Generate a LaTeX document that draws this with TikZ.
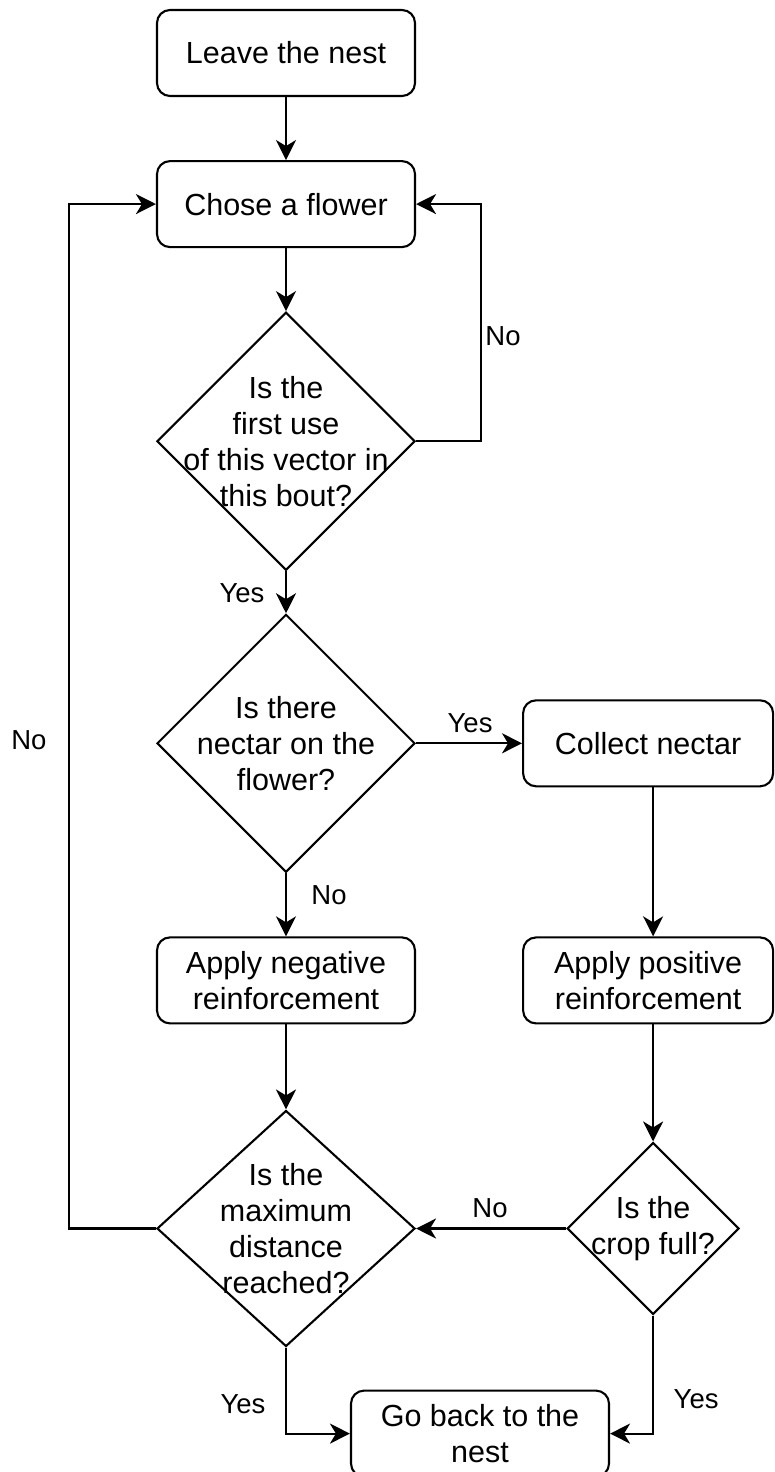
\documentclass[tikz,border=0pt]{standalone}
\usepackage{fontspec}
\setmainfont{Liberation Sans}
\usetikzlibrary{positioning,arrows.meta,calc,shapes.geometric}

\begin{document}
\begin{tikzpicture}[
  x=1pt, y=1pt,
  font=\fontsize{30.5}{36}\selectfont,
  >={Stealth[length=20pt,width=20pt,inset=6pt]},
  %% Node styles
  action/.style={
    rectangle, rounded corners=13pt, draw=black, fill=white,
    line width=2.1pt, minimum width=258pt, minimum height=86pt,
    inner sep=0pt, align=center
  },
  decision/.style={
    diamond, draw=black, fill=white,
    line width=2.1pt, inner sep=0pt,
    minimum width=258pt, minimum height=258pt
  },
  qtext/.style={align=center, inner sep=0pt},
  answer/.style={font=\fontsize{27.5}{33}\selectfont, inner sep=0pt},
  %% Arrow styles
  flow/.style={->, line width=2.1pt},
]

\useasboundingbox (-286,53) rectangle (488,-1419);

%% ── Left column ────────────────────────────────────────────────────────────
\node[action] (leave) at (0,0) {Leave the nest};
\node[action, below=63pt of leave] (flower) {Chose a flower};
\node[decision, below=63pt of flower,
      label={[qtext]center:Is the\\first use\\of this vector in\\this bout?}] (d1) {};
\node[decision, below=42pt of d1,
      label={[qtext]center:Is there\\nectar on the\\flower?}] (d2) {};
\node[action, below=63pt of d2] (neg) {Apply negative\\reinforcement};
\node[decision, below=85pt of neg, minimum height=236pt,
      label={[qtext]center:Is the\\maximum\\distance\\reached?}] (d3) {};

%% ── Right column ───────────────────────────────────────────────────────────
\node[action, right=106pt of d2, minimum width=250pt] (collect) {Collect nectar};
\node[action, right=106pt of neg, minimum width=250pt] (pos) {Apply positive\\reinforcement};
\node[decision, right=150pt of d3, minimum width=172pt, minimum height=172pt,
      label={[qtext]center:Is the\\crop full?}] (crop) {};

%% ── End ────────────────────────────────────────────────────────────────────
\node[action, below=42pt of d3, xshift=194pt] (home) {Go back to the\\nest};

%% ── Arrows ─────────────────────────────────────────────────────────────────
\draw[flow] (leave) -- (flower);
\draw[flow] (flower) -- (d1);
\draw[flow] (d1) -- (d2);
\draw[flow] (d1.east) -- ++(65,0) |- (flower.east);
\draw[flow] (d2) -- (collect);
\draw[flow] (d2) -- (neg);
\draw[flow] (neg) -- (d3);
\draw[flow] (collect.south -| crop) -- (pos.north -| crop);
\draw[flow] (pos.south -| crop) -- (crop.north);
\draw[flow] (crop) -- (d3);
\draw[flow] (d3.west) -- ++(-87,0) |- (flower.west);
\draw[flow] (d3.south) |- (home.west);
\draw[flow] (crop.south) |- (home.east);

%% ── Answers ────────────────────────────────────────────────────────────────
\node[answer] (no1)  at ($(d1.east)+(87,105)$)    {No};
\node[answer] (yes1) at ($(d1.south)+(-44,-22)$)  {Yes};
\node[answer] (yes2) at ($(d2.east)+(54,20)$)     {Yes};
\node[answer] (no2)  at ($(d2.south)+(43,-22)$)   {No};
\node[answer] (no3)  at ($(d2.west)+(-127,3)$)    {No};
\node[answer] (no4)  at ($(crop.west)+(-76,20)$)  {No};
\node[answer] (yes3) at ($(d3.south)+(-43,-57)$)  {Yes};
\node[answer] (yes4) at ($(crop.south)+(43,-84)$) {Yes};

\end{tikzpicture}
\end{document}
